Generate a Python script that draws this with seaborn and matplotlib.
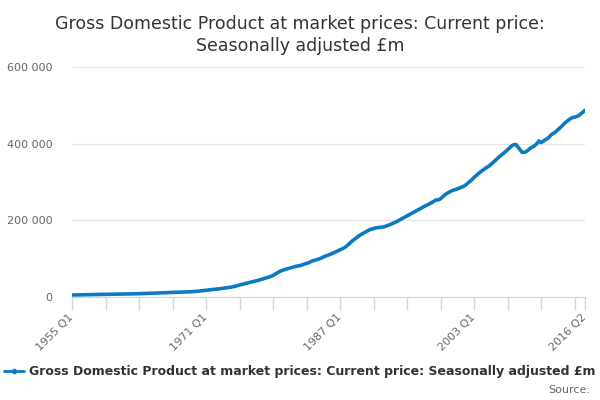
import numpy as np
import pandas as pd
import seaborn as sns
import matplotlib.pyplot as plt
import matplotlib.transforms as mtransforms
from matplotlib.lines import Line2D
from matplotlib.ticker import FuncFormatter

# Quarterly values, £m (1955 Q1 .. 2016 Q2)
gdp_values = [
    5200, 5300, 5400, 5500,          # 1955
    5700, 5800, 5900, 6000,          # 1956
    6100, 6200, 6300, 6400,          # 1957
    6500, 6500, 6600, 6700,          # 1958
    6800, 6900, 7000, 7200,          # 1959
    7300, 7400, 7500, 7600,          # 1960
    7800, 7900, 8000, 8100,          # 1961
    8200, 8300, 8400, 8500,          # 1962
    8600, 8800, 9000, 9200,          # 1963
    9400, 9600, 9800, 10000,         # 1964
    10200, 10400, 10600, 10800,      # 1965
    11000, 11200, 11300, 11400,      # 1966
    11600, 11800, 12000, 12200,      # 1967
    12600, 12800, 13100, 13300,      # 1968
    13500, 13800, 14100, 14500,      # 1969
    15000, 15600, 16200, 16900,      # 1970
    17600, 18300, 18900, 19400,      # 1971
    19900, 20500, 21100, 21900,      # 1972
    22800, 23500, 24300, 25000,      # 1973
    25800, 27000, 28300, 29800,      # 1974
    31500, 33000, 34300, 35500,      # 1975
    36800, 38000, 39300, 40500,      # 1976
    42000, 43500, 45200, 46800,      # 1977
    48500, 50200, 52000, 53800,      # 1978
    56000, 59500, 63000, 66000,      # 1979
    68500, 70500, 72500, 74000,      # 1980
    75500, 77000, 78500, 80000,      # 1981
    81000, 82000, 84000, 86000,      # 1982
    87500, 89500, 92000, 94500,      # 1983
    96000, 97500, 99500, 101500,     # 1984
    104000, 106500, 108500, 110500,  # 1985
    113000, 115500, 118000, 120500,  # 1986
    123000, 125500, 128500, 132000,  # 1987
    137000, 142000, 147000, 151000,  # 1988
    155000, 159500, 163000, 166000,  # 1989
    169000, 172000, 175000, 177000,  # 1990
    178500, 180000, 181000, 181500,  # 1991
    182000, 183000, 185000, 187000,  # 1992
    189000, 191500, 194000, 196500,  # 1993
    199500, 202500, 205500, 208500,  # 1994
    211500, 214500, 217500, 220500,  # 1995
    223500, 226500, 229500, 232500,  # 1996
    235500, 238500, 241000, 244000,  # 1997
    247000, 250500, 253500, 253000,  # 1998
    256500, 261000, 266000, 270000,  # 1999
    273000, 276000, 278500, 280000,  # 2000
    282000, 284000, 286500, 288500,  # 2001
    292000, 297000, 301500, 306000,  # 2002
    311500, 316500, 321500, 326000,  # 2003
    330000, 334000, 337500, 341000,  # 2004
    345500, 350500, 355500, 360500,  # 2005
    365500, 370000, 374500, 379000,  # 2006
    384000, 389000, 394500, 397000,  # 2007
    398000, 391000, 384000, 377500,  # 2008
    377000, 379500, 384000, 388500,  # 2009
    392000, 395000, 400000, 407000,  # 2010
    403000, 406000, 410000, 413000,  # 2011
    418000, 424000, 427000, 431000,  # 2012
    436000, 441000, 446000, 452000,  # 2013
    457000, 461000, 465000, 468000,  # 2014
    469000, 471000, 473000, 478000,  # 2015
    482000, 487000,                  # 2016
]
quarters = [f"{y} Q{q}" for y in range(1955, 2017) for q in range(1, 5)][:len(gdp_values)]

shown_labels = ["1955 Q1", "1971 Q1", "1987 Q1", "2003 Q1", "2016 Q2"]
series_name = "Gross Domestic Product at market prices: Current price: Seasonally adjusted £m"
title = "Gross Domestic Product at market prices: Current price:\nSeasonally adjusted £m"

df = pd.DataFrame({"quarter": quarters, "value": gdp_values})
df["pos"] = np.arange(len(df))

sns.set_style("white")
plt.rcParams["font.family"] = ["DejaVu Sans"]

blue = "#0b7bc1"
fig = plt.figure(figsize=(6, 4), dpi=100)
ax = fig.add_axes([0.12, 0.2575, 0.855, 0.575])

sns.lineplot(data=df, x="pos", y="value", color=blue, linewidth=2.6, ax=ax,
             solid_capstyle="round", solid_joinstyle="round")

ax.set_xlim(0, len(df) - 1)
ax.set_ylim(0, 600000)
ax.set_yticks([0, 200000, 400000, 600000])
ax.yaxis.set_major_formatter(FuncFormatter(lambda v, p: f"{int(v):,}".replace(",", " ")))
ax.grid(axis="y", color="#e6e6e6", linewidth=1)
ax.set_axisbelow(True)

# ticks every 16 quarters, plus the final quarter
tick_pos = list(range(0, len(df) - 4, 16)) + [len(df) - 1]
ax.set_xticks(tick_pos)
ax.set_xticklabels([df["quarter"][p] if df["quarter"][p] in shown_labels else "" for p in tick_pos],
                   rotation=45, ha="right", rotation_mode="anchor")
ax.tick_params(axis="x", bottom=True, direction="out", length=9, width=1, color="#ccd6eb",
               labelsize=8, labelcolor="#666666", pad=2)
ax.tick_params(axis="y", left=False, length=0, labelsize=8, labelcolor="#666666", pad=14)
shift = mtransforms.ScaledTranslation(-4 / 100, 0, fig.dpi_scale_trans)
for lbl in ax.get_xticklabels():
    lbl.set_transform(lbl.get_transform() + shift)

for s in ["top", "right", "left"]:
    ax.spines[s].set_visible(False)
ax.spines["bottom"].set_color("#ccd6eb")
ax.set_xlabel("")
ax.set_ylabel("")

fig.text(0.5, 0.962, title, ha="center", va="top", fontsize=12.5, color="#333333",
         linespacing=1.25)

handle = Line2D([], [], color=blue, linewidth=2, marker="o", markersize=3)
fig.legend([handle], [series_name], loc="center", bbox_to_anchor=(0.5, 0.07),
           frameon=False, handlelength=1.6, handletextpad=0.4,
           prop={"weight": "bold", "size": 9}, labelcolor="#333333")
fig.text(0.983, 0.025, "Source:", ha="right", va="center", fontsize=8, color="#666666")

fig.savefig("out.png", dpi=100)
